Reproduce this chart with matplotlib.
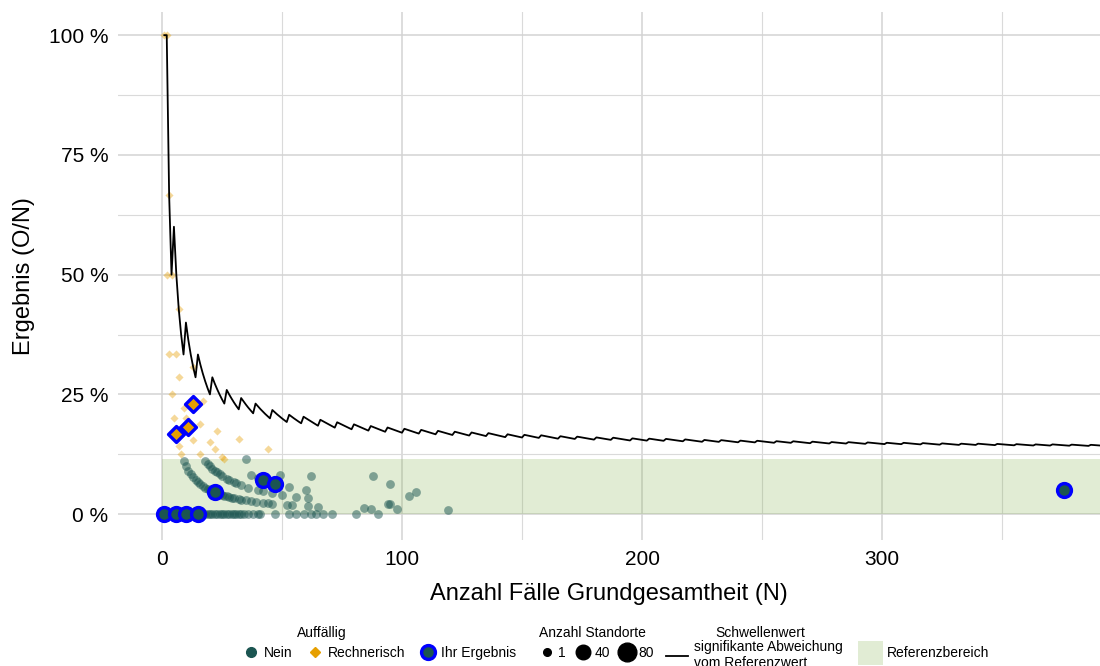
import matplotlib.pyplot as plt
from matplotlib.lines import Line2D
from matplotlib.patches import Patch

plt.rcParams['font.family'] = ['Liberation Sans', 'DejaVu Sans']

# Schwellenwert (signifikante Abweichung vom Referenzwert), in %
thr_n = [1, 2, 3, 4, 5, 6, 7, 8, 9, 10, 11, 12, 13, 14, 15, 16, 17, 18, 19, 20,
         21, 22, 23, 24, 25, 26, 27, 28, 29, 30, 31, 32, 33, 34, 35, 36, 37, 38, 39, 40,
         41, 42, 43, 44, 45, 46, 47, 48, 49, 50, 51, 52, 53, 54, 55, 56, 57, 58,
         59, 65, 66, 72, 73, 79, 80, 86, 87, 93, 94, 100, 101, 107, 108, 114, 115, 121,
         122, 128, 129, 135, 136, 143, 144, 150, 151, 157, 158, 165, 166, 172, 173, 180,
         181, 187, 188, 195, 196, 202, 203, 209, 210, 217, 218, 225, 226, 232, 233, 240,
         241, 247, 248, 255, 256, 262, 263, 270, 271, 278, 279, 285, 286, 293, 294, 301,
         302, 308, 309, 316, 317, 324, 325, 332, 333, 339, 340, 347, 348, 355, 356, 363,
         364, 370, 371, 378, 379, 386, 387, 391]
thr_pct = [100, 100, 66.67, 50.0, 60.0, 50.0, 42.86, 37.5, 33.33, 40.0, 36.36, 33.33, 30.77, 28.57,
           33.33, 31.25, 29.41, 27.78, 26.32, 25.0, 28.57, 27.27, 26.09, 25.0, 24.0, 23.08, 25.93,
           25.0, 24.14, 23.33, 22.58, 21.88, 24.24, 23.53, 22.86, 22.22, 21.62, 21.05, 23.08, 22.5,
           21.95, 21.43, 20.93, 20.45, 20.0, 21.74, 21.28, 20.83, 20.41, 20.0, 19.61, 19.23, 20.75,
           20.37, 20.0, 19.64, 19.30, 18.97,
           20.34, 18.46, 19.70, 18.06, 19.18, 17.72, 18.75, 17.44, 18.39, 17.20, 18.09, 17.00,
           17.82, 16.82, 17.59, 16.67, 17.39, 16.53, 17.21, 16.41, 17.05, 16.30, 16.91, 16.08,
           16.67, 16.00, 16.56, 15.92, 16.46, 15.76, 16.27, 15.70, 16.18, 15.56, 16.02, 15.51,
           15.96, 15.38, 15.82, 15.35, 15.76, 15.31, 15.71, 15.21, 15.60, 15.11, 15.49, 15.09,
           15.45, 15.00, 15.35, 14.98, 15.32, 14.90, 15.23, 14.89, 15.21, 14.81, 15.13, 14.75,
           15.05, 14.74, 15.03, 14.68, 14.97, 14.62, 14.90, 14.61, 14.89, 14.56, 14.83, 14.51,
           14.77, 14.46, 14.71, 14.45, 14.71, 14.41, 14.66, 14.37, 14.61, 14.33, 14.56, 14.32,
           14.56, 14.29, 14.51, 14.25, 14.47, 14.32]

ref_upper = 11.5  # Referenzbereich 0 - 11.5 %

# Auffaellig: Nein
nein_n = [1, 2, 3, 4, 5, 6, 7, 8, 9, 10, 11, 12, 13, 14, 15, 16, 17, 18, 19, 20, 21, 22, 23, 24,
          25, 26, 27, 28, 29, 30, 31, 32, 33, 34, 36, 38, 40, 41, 47, 53, 56, 59, 62, 64, 67, 71,
          81, 90,
          9, 10, 11, 12, 13, 14, 15, 16, 17, 18, 19, 20, 21, 23, 24, 25, 26, 27, 28, 29, 30, 32,
          33, 35, 37, 39, 42, 44, 46, 52, 54, 61, 65, 84, 87, 98, 119,
          18, 19, 20, 21, 22, 23, 24, 25, 27, 28, 30, 31, 33, 36, 40, 42, 46, 50, 56, 61, 94, 95,
          35, 37, 40, 44, 49, 53, 60, 62, 88, 95, 103, 106]
nein_pct = [0] * 48 + [
    11.11, 10.0, 9.09, 8.33, 7.69, 7.14, 6.67, 6.25, 5.88, 5.56, 5.26, 5.0, 4.76, 4.35, 4.17,
    4.0, 3.85, 3.70, 3.57, 3.45, 3.33, 3.13, 3.03, 2.86, 2.70, 2.56, 2.38, 2.27, 2.17, 1.92,
    1.85, 1.64, 1.54, 1.19, 1.15, 1.02, 0.84,
    11.11, 10.53, 10.0, 9.52, 9.09, 8.70, 8.33, 8.0, 7.41, 7.14, 6.67, 6.45, 6.06, 5.56, 5.0,
    4.76, 4.35, 4.0, 3.57, 3.28, 2.13, 2.11,
    11.43, 8.11, 7.5, 6.82, 8.16, 5.66, 5.0, 8.06, 7.95, 6.32, 3.88, 4.72]

# Auffaellig: Rechnerisch
rech_n = [1, 2, 2, 3, 3, 4, 4, 5, 6, 7, 7, 7, 8, 9, 10, 13, 13, 16, 16, 17, 20, 22, 23, 25,
          26, 32, 44]
rech_pct = [100, 100, 50, 66.67, 33.33, 50, 25, 20, 33.33, 42.86, 28.57, 14.29, 12.5, 22.22,
            20.0, 30.77, 15.38, 18.75, 12.5, 23.53, 15.0, 13.64, 17.39, 12.0, 11.54, 15.63, 13.64]

# Ihr Ergebnis
own_nein_n = [1, 6, 10, 15, 22, 42, 47, 376]
own_nein_pct = [0, 0, 0, 0, 4.55, 7.14, 6.38, 5.05]
own_rech_n = [6, 11, 13]
own_rech_pct = [16.67, 18.18, 23.08]

teal = '#1B5551'
orange = '#E69F00'
blue = '#0000FF'

fig = plt.figure(figsize=(11, 6.66), dpi=100)
ax = fig.add_axes([118 / 1100, 1 - 540 / 666, 982 / 1100, (540 - 11.7) / 666])

ax.fill_between([0, 400], 0, ref_upper, color='#88B455', alpha=0.25, lw=0, zorder=1)
ax.plot(thr_n, thr_pct, color='black', lw=1.3, zorder=3)
ax.scatter(nein_n, nein_pct, s=40, color=teal, alpha=0.5, lw=0, zorder=2)
ax.scatter(rech_n, rech_pct, s=17, marker='D', color=orange, alpha=0.4, lw=0, zorder=2)
ax.scatter(own_nein_n, own_nein_pct, s=100, color=teal, edgecolors=blue, linewidths=2.4, zorder=4)
ax.scatter(own_rech_n, own_rech_pct, s=66, marker='D', color=orange, edgecolors=blue,
           linewidths=2.4, zorder=4)

ax.set_xlim(-18.3, 390.8)
ax.set_ylim(-5.4, 104.9)
ax.set_xticks([0, 100, 200, 300])
ax.set_xticks([50, 150, 250, 350], minor=True)
ax.set_yticks([0, 25, 50, 75, 100])
ax.set_yticklabels(['0 %', '25 %', '50 %', '75 %', '100 %'])
ax.set_yticks([12.5, 37.5, 62.5, 87.5], minor=True)
ax.grid(which='major', color='#d3d3d3', lw=1.1, zorder=0)
ax.grid(which='minor', color='#dadada', lw=0.8, zorder=0)
ax.set_axisbelow(True)
for s in ax.spines.values():
    s.set_visible(False)
ax.tick_params(which='both', length=0, labelsize=15, pad=7, colors='black')
ax.set_xlabel('Anzahl Fälle Grundgesamtheit (N)', fontsize=17, labelpad=10)
ax.set_ylabel('Ergebnis (O/N)', fontsize=17, labelpad=10)

# legends
fig.text(322 / 1100, 1 - 633 / 666, 'Auffällig', ha='center', va='center', fontsize=10)
fig.text(592 / 1100, 1 - 633 / 666, 'Anzahl Standorte', ha='center', va='center', fontsize=10)
fig.text(760 / 1100, 1 - 633 / 666, 'Schwellenwert', ha='center', va='center', fontsize=10)

h1 = [Line2D([], [], ls='', marker='o', ms=7, color=teal),
      Line2D([], [], ls='', marker='D', ms=5.5, color=orange),
      Line2D([], [], ls='', marker='o', ms=10, mfc=teal, mec=blue, mew=2.4)]
fig.legend(h1, ['Nein', 'Rechnerisch', 'Ihr Ergebnis'], loc='center left',
           bbox_to_anchor=(244 / 1100, 1 - 653 / 666), ncol=3, frameon=False, fontsize=10,
           handlelength=1.0, handletextpad=0.45, columnspacing=1.1, borderpad=0, borderaxespad=0)

h2 = [Line2D([], [], ls='', marker='o', ms=s, color='black') for s in (5.5, 10.5, 13.5)]
fig.legend(h2, ['1', '40', '80'], loc='center left',
           bbox_to_anchor=(538 / 1100, 1 - 653 / 666), ncol=3, frameon=False, fontsize=10,
           handlelength=1.3, handletextpad=0.15, columnspacing=0.6, borderpad=0, borderaxespad=0)

h3 = [Line2D([], [], color='black', lw=1.3)]
fig.legend(h3, ['signifikante Abweichung\nvom Referenzwert'], loc='center left',
           bbox_to_anchor=(666 / 1100, 1 - 655 / 666), frameon=False, fontsize=10,
           handlelength=1.6, handletextpad=0.4, borderpad=0, borderaxespad=0,
           labelspacing=0)

h4 = [Patch(facecolor='#88B455', alpha=0.25, lw=0)]
fig.legend(h4, ['Referenzbereich'], loc='center left',
           bbox_to_anchor=(858 / 1100, 1 - 653 / 666), frameon=False, fontsize=10,
           handlelength=1.8, handleheight=2.2, handletextpad=0.3, borderpad=0, borderaxespad=0)

fig.savefig('out.png', dpi=100)
